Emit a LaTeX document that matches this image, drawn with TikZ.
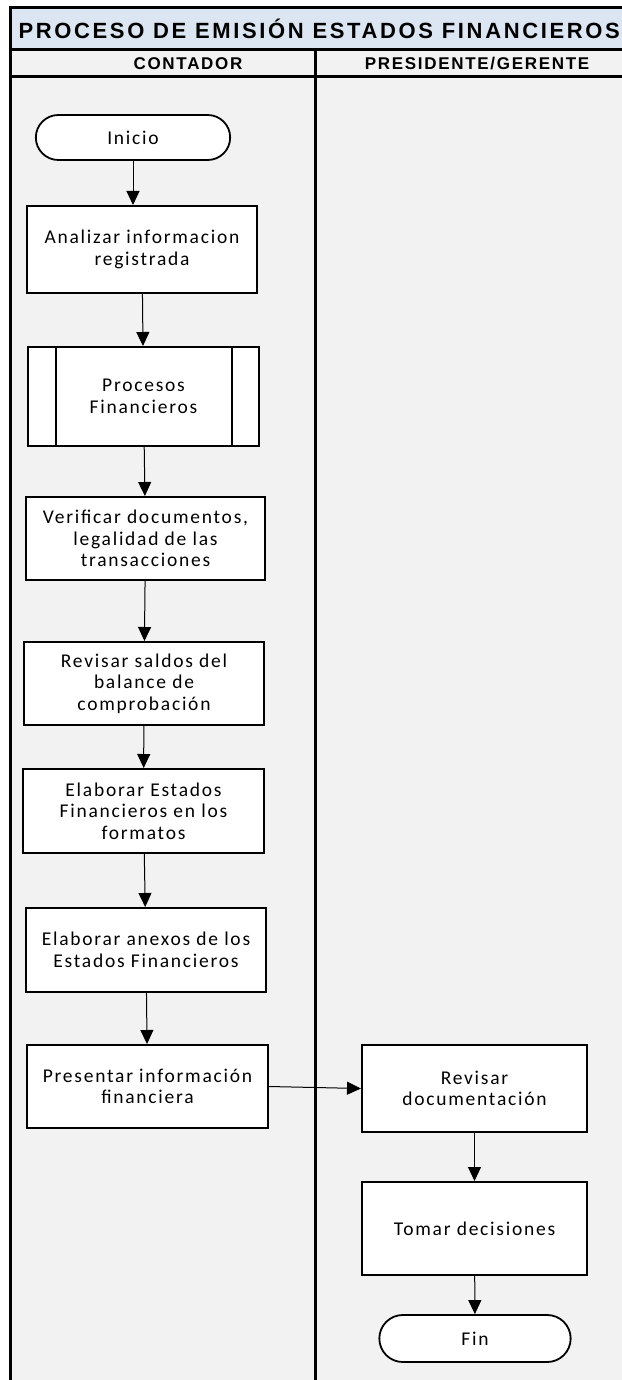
\documentclass[tikz,border=0pt]{standalone}
\usepackage{fontspec}
\setmainfont{Carlito}
\newfontfamily\headfont[LetterSpace=10]{Liberation Sans}
\newfontfamily\titlefont[LetterSpace=12]{Liberation Sans}
\usetikzlibrary{shapes.misc,arrows.meta}
\definecolor{titleblue}{HTML}{DCE6F2}
\definecolor{lanegray}{HTML}{F2F2F2}
\newcommand{\boxfont}{\addfontfeatures{LetterSpace=9}\fontsize{19.5}{21.5}\selectfont}
\tikzset{
  proc/.style={draw, rectangle, fill=white, line width=2pt, align=center, font=\boxfont},
  term/.style={draw, rounded rectangle, fill=white, line width=1.8pt, font=\boxfont},
  flow/.style={-{Triangle[width=13pt,length=14pt]}, line width=1pt},
}
\begin{document}
\begin{tikzpicture}[x=1pt, y=-1pt]
    \useasboundingbox (0,0) rectangle (621,1380);
    % swimlanes
    \fill[lanegray] (10,50) rectangle (630,1390);
    \fill[titleblue] (10,8) rectangle (630,50);
    \draw[line width=3pt] (10,1390) -- (10,8) -- (630,8);
    \draw[line width=3pt] (10,50) -- (630,50);
    \draw[line width=3pt] (10,77) -- (630,77);
    \draw[line width=3pt] (315,50) -- (315,1390);
    \node[anchor=west, font=\titlefont\bfseries\fontsize{22}{25}\selectfont] (title) at (15,29) {PROCESO DE EMISIÓN ESTADOS FINANCIEROS};
    \node[font=\headfont\bfseries\fontsize{17}{19}\selectfont] (contador) at (188,64) {CONTADOR};
    \node[font=\headfont\bfseries\fontsize{17}{19}\selectfont] (gerente) at (477,64) {PRESIDENTE/GERENTE};

    % contador
    \node[term, minimum width=201pt, minimum height=45pt] (inicio) at (133,137.5) {Inicio};
    \node[proc, minimum width=230pt, minimum height=87pt] (analizar) at (142,249.5) {Analizar informacion\\registrada};
    \node[proc, minimum width=231pt, minimum height=99pt] (procfin) at (143.5,396.5) {Procesos\\Financieros};
    \draw[line width=2pt] ([xshift=29pt]procfin.north west) -- ([xshift=29pt]procfin.south west);
    \draw[line width=2pt] ([xshift=-28pt]procfin.north east) -- ([xshift=-28pt]procfin.south east);
    \node[proc, minimum width=239pt, minimum height=83pt] (verificar) at (145.5,538.5) {Verificar documentos,\\legalidad de las\\transacciones};
    \node[proc, minimum width=240pt, minimum height=83pt] (saldos) at (144,683.5) {Revisar saldos del\\balance de\\comprobación};
    \node[proc, minimum width=241pt, minimum height=84pt] (elaborar) at (143.5,811) {Elaborar Estados\\Financieros en los\\formatos};
    \node[proc, minimum width=240pt, minimum height=84pt] (anexos) at (146,950) {Elaborar anexos de los\\Estados Financieros};
    \node[proc, minimum width=241pt, minimum height=83pt] (presentar) at (147.5,1086.5) {Presentar información\\financiera};

    % presidente / gerente
    \node[proc, minimum width=225pt, minimum height=87pt] (revdoc) at (474.5,1088.5) {Revisar\\documentación};
    \node[proc, minimum width=225pt, minimum height=93pt] (decision) at (474.5,1228.5) {Tomar decisiones};
    \node[term, minimum width=198pt, minimum height=47pt] (fin) at (475,1338.5) {Fin};

    \draw[flow] (inicio.south) -- (inicio.south |- analizar.north);
    \draw[flow] (analizar) -- (procfin);
    \draw[flow] (procfin) -- (verificar);
    \draw[flow] (verificar) -- (saldos);
    \draw[flow] (saldos) -- (elaborar);
    \draw[flow] (elaborar) -- (anexos);
    \draw[flow] (anexos) -- (presentar);
    \draw[flow] (presentar.east) -- (revdoc.west);
    \draw[flow] (revdoc) -- (decision);
    \draw[flow] (decision) -- (fin);
\end{tikzpicture}
\end{document}
